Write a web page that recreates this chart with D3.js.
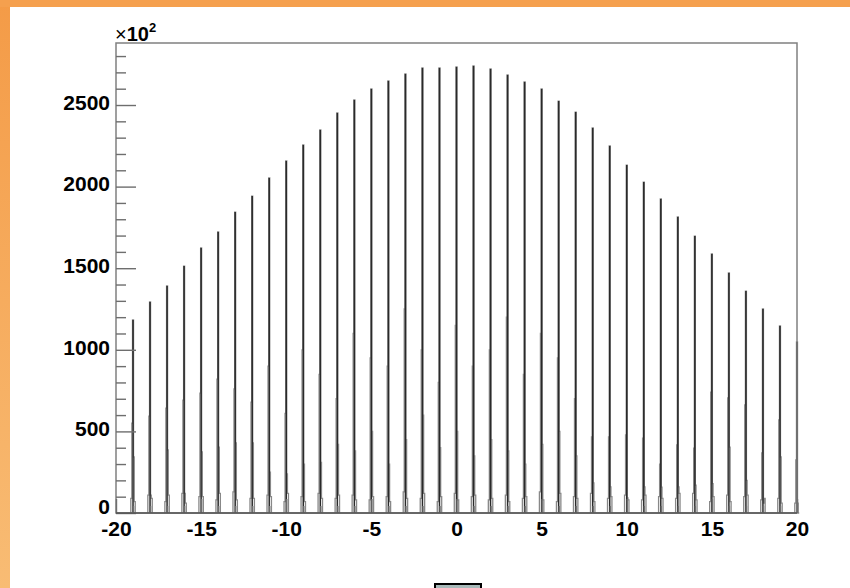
<!DOCTYPE html>
<html>
<head>
<meta charset="utf-8">
<script src="https://d3js.org/d3.v7.min.js"></script>
<style>
  body { margin: 0; background: #fff; }
  svg { display: block; font-family: "Liberation Sans", Arial, sans-serif; }
  .tick text { font-weight: bold; font-size: 21px; fill: #000; }
  .tick line { stroke: #6e6e6e; stroke-width: 1.4; }
</style>
</head>
<body>
<div id="chart"></div>
<script>
// spike positions (integers) and heights, in units of 10^2
const centers = [-19,-18,-17,-16,-15,-14,-13,-12,-11,-10,-9,-8,-7,-6,-5,-4,-3,-2,-1,0,
                 1,2,3,4,5,6,7,8,9,10,11,12,13,14,15,16,17,18,19,20];
const peaks = [1183,1293,1391,1513,1624,1722,1844,1942,2053,2157,2255,2347,2451,2531,2598,2647,2690,2727,2727,2733,
               2739,2721,2684,2641,2598,2524,2457,2359,2249,2132,2028,1924,1814,1697,1587,1471,1360,1250,1146,1048];
const shoulderL = [550,594,643,692,735,820,760,680,900,610,1000,850,700,1100,950,900,1250,1000,800,1150,
                   900,1000,1200,850,1100,950,700,466,466,478,459,300,417,398,741,705,662,368,570,325];
const shoulderR = [343,110,386,120,374,404,429,429,250,240,300,310,420,380,500,300,450,600,400,500,
                   350,450,380,300,420,500,350,184,160,92,160,159,160,170,180,404,200,61,343,61];
const baseL = [90,110,70,120,100,80,130,90,110,70,100,120,90,110,80,100,130,90,70,120,
               100,80,110,90,130,70,100,120,90,110,80,100,90,120,70,110,100,80,90,60];
const baseR = [70,90,110,60,100,120,80,90,100,120,70,90,110,80,100,70,90,120,100,80,
               110,90,70,100,80,120,90,70,100,80,110,90,120,80,100,70,110,90,60,0];
// bin edges relative to each integer
const binEdges = [-0.13, -0.07, -0.03, 0.03, 0.07, 0.13];

const yMajor = [0, 500, 1000, 1500, 2000, 2500];
const yMinor = [100,200,300,400,600,700,800,900,1100,1200,1300,1400,1600,1700,1800,1900,2100,2200,2300,2400,2600,2700,2800];
const xMajor = [-20, -15, -10, -5, 0, 5, 10, 15, 20];
const xMinor = [-19,-18,-17,-16,-14,-13,-12,-11,-9,-8,-7,-6,-4,-3,-2,-1,1,2,3,4,6,7,8,9,11,12,13,14,16,17,18,19];

const W = 850, H = 588;
const svg = d3.select('#chart').append('svg').attr('width', W).attr('height', H);

// orange slide border
const defs = svg.append('defs');
const grad = defs.append('linearGradient').attr('id', 'og').attr('x1', 0).attr('y1', 0).attr('x2', 0).attr('y2', 1);
grad.append('stop').attr('offset', '0%').attr('stop-color', '#f49b47');
grad.append('stop').attr('offset', '100%').attr('stop-color', '#f8bc74');
svg.append('rect').attr('x', 0).attr('y', 0).attr('width', 10).attr('height', H).attr('fill', 'url(#og)');
svg.append('rect').attr('x', 0).attr('y', 0).attr('width', W).attr('height', 7).attr('fill', '#f5a04e');

const x = d3.scaleLinear().domain([-20, 20]).range([116, 797]);
const y = d3.scaleLinear().domain([0, 2880]).range([513, 43]);

// spikes as step outlines
const spikes = svg.append('g');
centers.forEach((c, i) => {
  const levels = [baseL[i], shoulderL[i], peaks[i], shoulderR[i], baseR[i]];
  const pts = [[c + binEdges[0], 0]];
  levels.forEach((v, k) => {
    pts.push([c + binEdges[k], v]);
    pts.push([c + binEdges[k + 1], v]);
  });
  pts.push([c + binEdges[binEdges.length - 1], 0]);
  spikes.append('path')
    .attr('d', d3.line().x(d => x(d[0])).y(d => y(d[1]))(pts))
    .attr('fill', 'none').attr('stroke', '#888').attr('stroke-width', 1.3);
  spikes.append('line')
    .attr('x1', x(c)).attr('x2', x(c))
    .attr('y1', y(0)).attr('y2', y(peaks[i]))
    .attr('stroke', '#2a2a2a').attr('stroke-width', 1.5);
});

// frame
svg.append('rect')
  .attr('x', x(-20)).attr('y', y(2880))
  .attr('width', x(20) - x(-20)).attr('height', y(0) - y(2880))
  .attr('fill', 'none').attr('stroke', '#808080').attr('stroke-width', 1.5);

const plain = d => String(d);

// y axis
const yAx = svg.append('g').attr('transform', `translate(${x(-20)},0)`)
  .call(d3.axisLeft(y).tickValues(yMajor).tickSize(-20).tickPadding(6).tickFormat(plain));
yAx.selectAll('.tick text').attr('dy', d => d === 0 ? '0em' : '0.2em');
svg.append('g').attr('transform', `translate(${x(-20)},0)`)
  .call(d3.axisLeft(y).tickValues(yMinor).tickSize(-10).tickFormat(''));

// x axis
svg.append('g').attr('transform', `translate(0,${y(0)})`)
  .call(d3.axisBottom(x).tickValues(xMajor).tickSize(-14).tickPadding(8).tickFormat(plain));
svg.append('g').attr('transform', `translate(0,${y(0)})`)
  .call(d3.axisBottom(x).tickValues(xMinor).tickSize(-7).tickFormat(''));
svg.selectAll('.domain').remove();

svg.append('line')
  .attr('x1', x(-20)).attr('x2', x(20)).attr('y1', y(0)).attr('y2', y(0))
  .attr('stroke', '#555').attr('stroke-width', 1.5);

// exponent label
const ex = svg.append('text').attr('x', 115).attr('y', 41).attr('font-size', 20);
ex.append('tspan').text('\u00d7');
ex.append('tspan').attr('font-weight', 'bold').text('10');
ex.append('tspan').attr('font-weight', 'bold').attr('font-size', 13).attr('dy', -9).text('2');

// small box at bottom
svg.append('rect').attr('x', 435).attr('y', 584).attr('width', 46).attr('height', 10)
  .attr('fill', '#a9baba').attr('stroke', '#000').attr('stroke-width', 2);
</script>
</body>
</html>
